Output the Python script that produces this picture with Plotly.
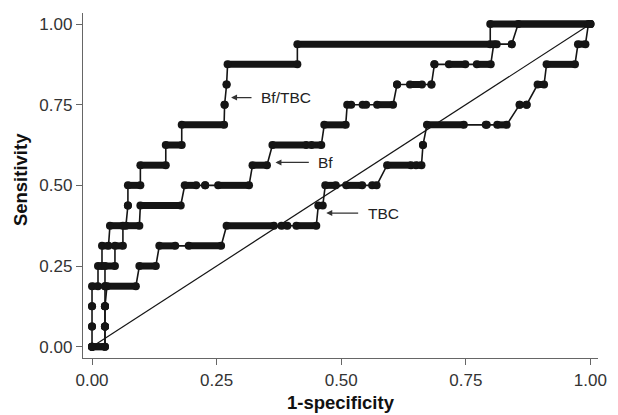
import plotly.graph_objects as go

# ROC step curves: each run = (true-positive count out of 16, fpr start, fpr end)
N_POS = 16

bftbc_tp = [0, 1, 2, 3, 4, 5, 6, 7, 8, 9, 10, 11, 12, 13, 14, 15, 16]
bftbc_x0 = [0.000, 0.000, 0.000, 0.000, 0.012, 0.020, 0.036, 0.072, 0.072, 0.097, 0.148, 0.180, 0.266, 0.270, 0.272, 0.412, 0.799]
bftbc_x1 = [0.000, 0.000, 0.000, 0.012, 0.020, 0.033, 0.068, 0.072, 0.097, 0.148, 0.180, 0.265, 0.266, 0.270, 0.412, 0.799, 1.000]

bf_tp = [0, 1, 2, 3, 4, 5, 6, 7, 8, 8, 8, 9, 10, 10, 11, 12, 12, 12, 13, 13, 13, 14, 14, 14, 15, 15, 16]
bf_x0 = [0.000, 0.026, 0.026, 0.026, 0.026, 0.046, 0.062, 0.097, 0.186, 0.227, 0.253, 0.322, 0.362, 0.440, 0.466, 0.512, 0.543, 0.572, 0.612, 0.638, 0.681, 0.687, 0.716, 0.772, 0.806, 0.842, 0.855]
bf_x1 = [0.026, 0.026, 0.026, 0.026, 0.046, 0.062, 0.095, 0.178, 0.209, 0.227, 0.315, 0.351, 0.430, 0.460, 0.509, 0.520, 0.550, 0.604, 0.612, 0.662, 0.681, 0.687, 0.749, 0.800, 0.812, 0.842, 1.000]

tbc_tp = [0, 1, 2, 3, 4, 5, 5, 6, 6, 6, 7, 8, 8, 8, 9, 9, 10, 11, 11, 11, 12, 12, 13, 14, 15, 16]
tbc_x0 = [0.000, 0.026, 0.026, 0.030, 0.095, 0.135, 0.194, 0.270, 0.380, 0.410, 0.454, 0.468, 0.510, 0.562, 0.592, 0.650, 0.664, 0.672, 0.790, 0.813, 0.858, 0.872, 0.894, 0.912, 0.975, 0.996]
tbc_x1 = [0.026, 0.026, 0.026, 0.088, 0.128, 0.167, 0.259, 0.365, 0.392, 0.450, 0.463, 0.489, 0.542, 0.571, 0.640, 0.661, 0.664, 0.746, 0.792, 0.832, 0.858, 0.872, 0.907, 0.969, 0.990, 1.000]

labels = ["Bf/TBC", "Bf", "TBC"]
label_tip_x = [0.279, 0.368, 0.470]
label_tip_y = [0.772, 0.571, 0.414]
label_text_x = [0.335, 0.450, 0.549]

x_ticks = [0, 0.25, 0.5, 0.75, 1.0]
x_ticktext = ["0.00", "0.25", "0.50", "0.75", "1.00"]
y_ticks = [0, 0.25, 0.5, 0.75, 1.0]
y_ticktext = ["0.00", "0.25", "0.50", "0.75", "1.00"]

INK = "#151515"
FONT = "Liberation Sans, Arial, Helvetica, sans-serif"

fig = go.Figure()

# diagonal reference line
fig.add_trace(go.Scatter(x=[0, 1], y=[0, 1], mode="lines",
                         line=dict(color=INK, width=1.2), hoverinfo="skip", showlegend=False))

for tp, x0, x1 in [(bftbc_tp, bftbc_x0, bftbc_x1), (bf_tp, bf_x0, bf_x1), (tbc_tp, tbc_x0, tbc_x1)]:
    sens = [k / N_POS for k in tp]
    # connecting thin path
    px, py = [], []
    for a, b, s in zip(x0, x1, sens):
        px += [a, b]
        py += [s, s]
    fig.add_trace(go.Scatter(x=px, y=py, mode="lines",
                             line=dict(color=INK, width=1.6), hoverinfo="skip", showlegend=False))
    # beaded runs of points
    rx, ry = [], []
    for a, b, s in zip(x0, x1, sens):
        rx += [a, b, None]
        ry += [s, s, None]
    fig.add_trace(go.Scatter(x=rx, y=ry, mode="lines+markers",
                             line=dict(color=INK, width=7),
                             marker=dict(color=INK, size=8),
                             hoverinfo="skip", showlegend=False))

annotations = []
for lab, tx, ty, lx in zip(labels, label_tip_x, label_tip_y, label_text_x):
    annotations.append(dict(x=tx, y=ty, xref="x", yref="y", ax=lx - 0.012, ay=ty,
                            axref="x", ayref="y", text="", showarrow=True,
                            arrowhead=2, arrowsize=1.0, arrowwidth=1.2, arrowcolor="#333"))
    annotations.append(dict(x=lx, y=ty, xref="x", yref="y", text=lab, showarrow=False,
                            xanchor="left", yanchor="middle",
                            font=dict(family=FONT, size=15.5, color="#222")))

# axis titles placed in paper coordinates (plot area: 83..607 px wide, 13..358 px tall)
annotations.append(dict(x=0.5, y=(358 - 403) / 345, xref="paper", yref="paper",
                        text="<b>1-specificity</b>", showarrow=False,
                        xanchor="center", yanchor="middle",
                        font=dict(family=FONT, size=18.5, color="#111")))
annotations.append(dict(x=(19 - 83) / 524, y=(358 - 180) / 345, xref="paper", yref="paper",
                        text="<b>Sensitivity</b>", showarrow=False,
                        xanchor="center", yanchor="middle", textangle=-90,
                        font=dict(family=FONT, size=18.5, color="#111")))

fig.update_layout(
    width=618, height=415,
    margin=dict(l=83, r=11, t=13, b=57),
    paper_bgcolor="white", plot_bgcolor="white",
    font=dict(family=FONT, color="#333"),
    annotations=annotations,
    xaxis=dict(range=[-0.0181, 1.0152], tickvals=x_ticks, ticktext=x_ticktext,
               showline=True, linecolor="#666", linewidth=1.3, ticks="outside",
               ticklen=6, tickcolor="#666", tickwidth=1.2, showgrid=False, zeroline=False,
               tickfont=dict(family=FONT, size=17, color="#333")),
    yaxis=dict(range=[-0.0350, 1.0341], tickvals=y_ticks, ticktext=y_ticktext,
               showline=True, linecolor="#666", linewidth=1.3, ticks="outside",
               ticklen=6, tickcolor="#666", tickwidth=1.2, showgrid=False, zeroline=False,
               tickfont=dict(family=FONT, size=17, color="#333")),
)

fig.write_html("out.html", config={"displayModeBar": False},
               post_script="document.body.style.margin='0';")
